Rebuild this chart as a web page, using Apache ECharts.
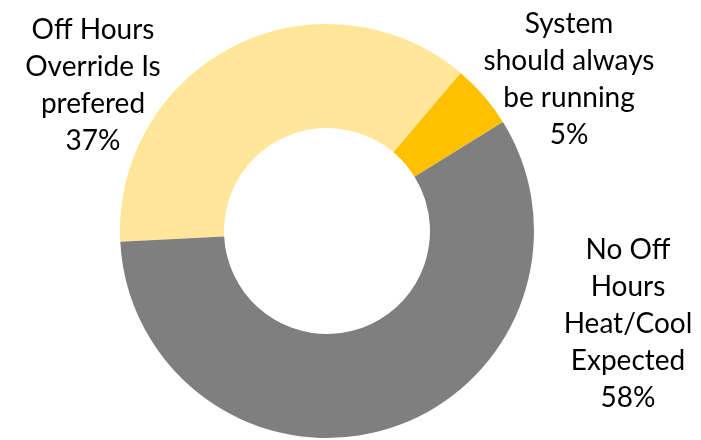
<!DOCTYPE html>
<html>
<head>
<meta charset="utf-8">
<script src="https://cdn.jsdelivr.net/npm/echarts@6/dist/echarts.min.js"></script>
<style>
  html, body { margin: 0; padding: 0; background: #fff; }
  #chart { width: 701px; height: 440px; }
</style>
</head>
<body>
<div id="chart"></div>
<script>
// Survey answers and their shares (percent)
const categories = [
  'Off Hours\nOverride Is\nprefered',
  'System\nshould always\nbe running',
  'No Off\nHours\nHeat/Cool\nExpected'
];
const shares = [37, 5, 58];
const sliceColors = ['#FFE699', '#FFC000', '#7F7F7F'];

// Where each label block is centred
const labelSpots = [[93, 85], [569, 79], [628, 324]];

const chart = echarts.init(document.getElementById('chart'), null, { renderer: 'canvas' });

chart.setOption({
  animation: false,
  series: [{
    type: 'pie',
    center: [327, 231],
    radius: [103, 207],
    startAngle: 183,
    clockwise: true,
    avoidLabelOverlap: false,
    data: categories.map((name, i) => ({
      name: name,
      value: shares[i],
      itemStyle: { color: sliceColors[i] }
    })),
    label: {
      show: true,
      position: 'outside',
      formatter: p => p.name + '\n' + p.value + '%',
      fontFamily: 'Lato, "Open Sans", sans-serif',
      fontSize: 28,
      lineHeight: 37,
      color: '#000',
      align: 'center'
    },
    labelLine: { show: false },
    labelLayout: params => ({
      x: labelSpots[params.dataIndex][0],
      y: labelSpots[params.dataIndex][1],
      align: 'center',
      verticalAlign: 'middle'
    }),
    emphasis: { disabled: true }
  }]
});
</script>
</body>
</html>
